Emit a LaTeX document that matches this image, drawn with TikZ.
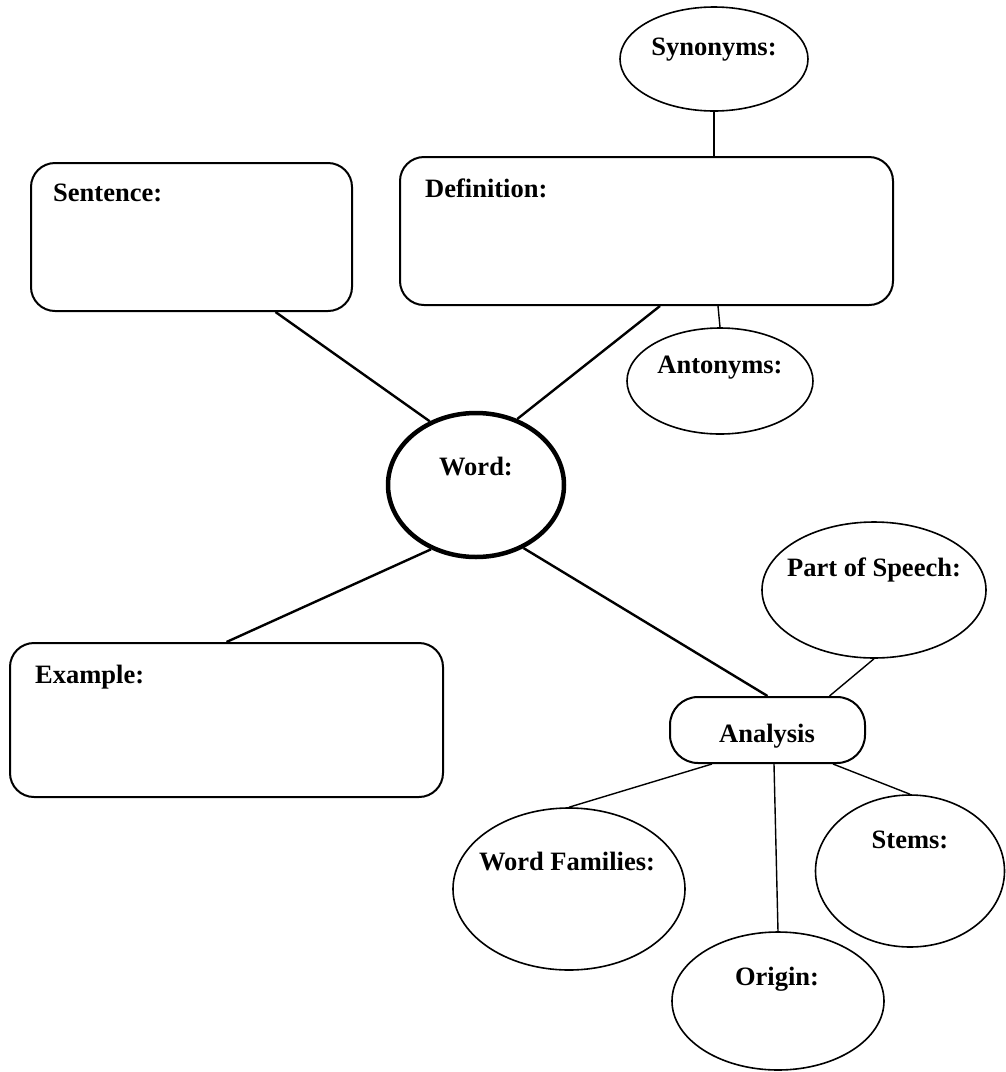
\documentclass[tikz,border=0pt]{standalone}
\usepackage{fontspec}
\setmainfont{Liberation Serif}
\usetikzlibrary{shapes.geometric}
\begin{document}
\begin{tikzpicture}[x=1pt,y=-1pt,
  lbl/.style={font=\fontsize{26.5}{30}\selectfont\bfseries, inner sep=0pt},
  rbox/.style={draw, line width=2pt, rounded corners=24pt, inner sep=0pt},
  oval/.style={draw, ellipse, line width=1.6pt, inner sep=0pt},
  conn/.style={line width=2.4pt},
  thin/.style={line width=1.4pt}]
\useasboundingbox (0,0) rectangle (1006,1072);
% boxes
\node[rbox, minimum width=321pt, minimum height=148pt] (sent) at (191.5,237) {};
\node[rbox, minimum width=493pt, minimum height=148pt] (def) at (646.5,231) {};
\node[rbox, minimum width=433pt, minimum height=154pt] (ex) at (226.5,720) {};
\node[rbox, rounded corners=28pt, minimum width=195pt, minimum height=66pt] (ana) at (767.5,730) {};
% ellipses
\node[oval, minimum width=188pt, minimum height=104pt] (syn) at (714,59) {};
\node[oval, minimum width=186pt, minimum height=106pt] (ant) at (720,381) {};
\node[oval, line width=4.5pt, minimum width=176pt, minimum height=144pt] (word) at (476,485) {};
\node[oval, minimum width=224pt, minimum height=136pt] (pos) at (874,590) {};
\node[oval, minimum width=232pt, minimum height=162pt] (wf) at (569,889) {};
\node[oval, minimum width=189pt, minimum height=152pt] (stem) at (910,871) {};
\node[oval, minimum width=212pt, minimum height=138pt] (orig) at (778,1001) {};
% labels
\node[lbl, anchor=base west] (sent-t) at (53,201) {Sentence:};
\node[lbl, anchor=base west] (def-t) at (425,197) {Definition:};
\node[lbl, anchor=base west] (ex-t) at (35,683) {Example:};
\node[lbl, anchor=base] (ana-t) at (767,742) {Analysis};
\node[lbl, anchor=base] (syn-t) at (714,55) {Synonyms:};
\node[lbl, anchor=base] (ant-t) at (720,373) {Antonyms:};
\node[lbl, anchor=base] (word-t) at (476,475) {Word:};
\node[lbl, anchor=base] (pos-t) at (874,576) {Part of Speech:};
\node[lbl, anchor=base] (wf-t) at (567,870) {Word Families:};
\node[lbl, anchor=base] (stem-t) at (910,848) {Stems:};
\node[lbl, anchor=base] (orig-t) at (777,985) {Origin:};
% connectors
\draw[conn] ([xshift=84pt]sent.south) -- (word.126);
\draw[conn] ([xshift=13.5pt]def.south) -- (word.58);
\draw[conn] (word.235) -- (ex.north);
\draw[conn] (word.307) -- (ana.north);
\draw[thin] (syn.south) -- ([xshift=67.5pt]def.north);
\draw[thin] ([xshift=71.5pt]def.south) -- (ant.north);
\draw[thin] (pos.south) -- ([xshift=62pt]ana.north);
\draw[thin] ([xshift=-55.5pt]ana.south) -- (wf.north);
\draw[thin] ([xshift=6.5pt]ana.south) -- (orig.north);
\draw[thin] ([xshift=65.5pt]ana.south) -- (stem.north);
\end{tikzpicture}
\end{document}
